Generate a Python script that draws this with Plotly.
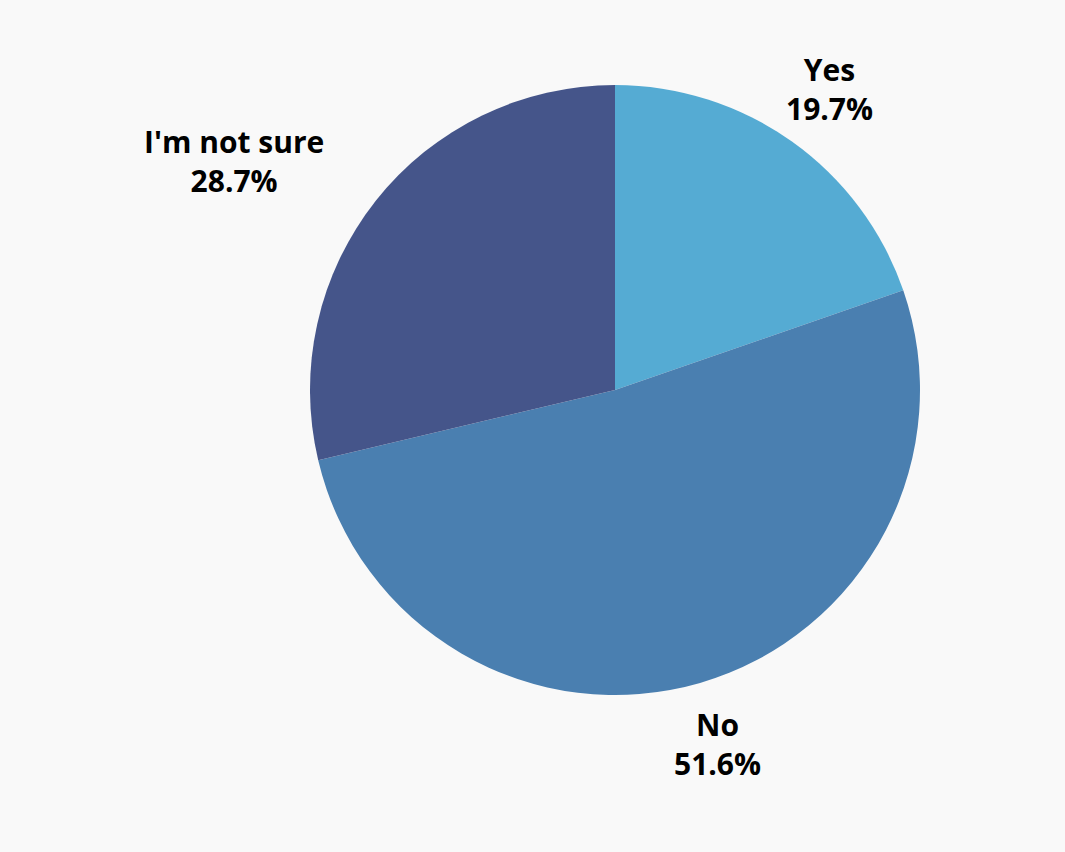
import math
import plotly.graph_objects as go

labels = ["Yes", "No", "I'm not sure"]
values = [19.7, 51.6, 28.7]
colors = ["#55abd3", "#4a7fb0", "#45558a"]

W, H = 1065, 852
cx, cy, R = 615, 390, 305  # pie centre and radius in pixels

fig = go.Figure()
fig.add_trace(go.Pie(
    labels=labels,
    values=values,
    marker=dict(colors=colors, line=dict(width=0)),
    sort=False,
    direction="clockwise",
    rotation=0,
    textinfo="none",
    hoverinfo="label+percent",
    showlegend=False,
    domain=dict(x=[(cx - R) / W, (cx + R) / W],
                y=[(H - cy - R) / H, (H - cy + R) / H]),
))

# labels outside the slices
total = sum(values)
cum = 0
for lab, v in zip(labels, values):
    mid = (cum + v / 2) / total * 2 * math.pi
    cum += v
    s, c = math.sin(mid), math.cos(mid)
    r = R * 1.21
    px = cx + r * s
    py = cy - r * c
    if s < -0.7:
        anchor = "right"
    elif s > 0.7:
        anchor = "left"
    else:
        anchor = "center"
    fig.add_annotation(
        x=px / W, y=1 - py / H, xref="paper", yref="paper",
        text=f"{lab}<br>{v:.1f}%", showarrow=False,
        xanchor=anchor, yanchor="middle", align="center",
        font=dict(family="Open Sans", size=30, color="#000000", weight="bold"),
    )

fig.update_layout(
    width=W, height=H,
    margin=dict(l=0, r=0, t=0, b=0),
    paper_bgcolor="#f9f9f9",
    plot_bgcolor="#f9f9f9",
)

fig.write_html("out.html", config={"displayModeBar": False},
               post_script="document.body.style.margin='0';")
